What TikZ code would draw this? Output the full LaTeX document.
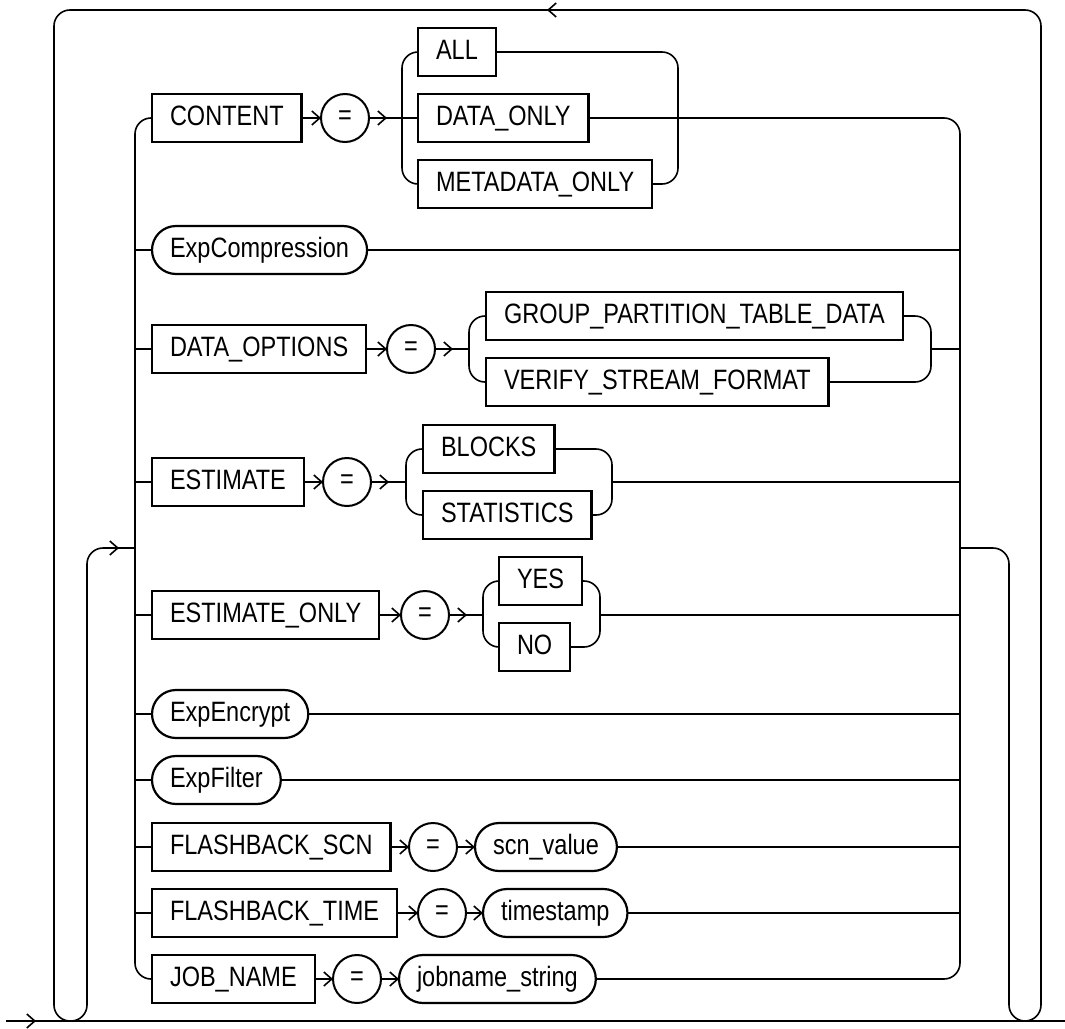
\documentclass[tikz,border=0pt]{standalone}
\usepackage{fontspec}
\newfontfamily\railfont{Liberation Sans}[FakeStretch=0.84]
\usetikzlibrary{arrows.meta,calc,decorations.markings}
\begin{document}
\begin{tikzpicture}[x=1pt,y=-1pt,
  rail/.style={line width=1.6pt},
  kw/.style={draw,line width=2.4pt,anchor=west,minimum height=48pt,inner xsep=18pt,inner ysep=0pt,
    text height=20pt,text depth=6pt,outer sep=0pt,font=\railfont\fontsize{28}{30}\selectfont},
  nt/.style={kw,rounded corners=24pt,line width=2.2pt},
  eqsign/.style={draw,circle,line width=2pt,minimum size=48pt,inner sep=0pt,outer sep=0pt,
    font=\railfont\fontsize{28}{30}\selectfont},
  chev/.tip={Straight Barb[length=8pt,width=14pt]},
  flow/.style={postaction={decorate},decoration={markings,mark=at position #1 with {\arrow{chev}}}},
  flow/.default=18pt]
\useasboundingbox (0,0) rectangle (1065,1028);
\coordinate (lb) at (135,548);
\coordinate (rb) at (960,548);
\coordinate (upin) at (87,548);
\coordinate (downout) at (1009,548);
\coordinate (loopL) at (54,10);
\coordinate (loopR) at (1041,10);
\coordinate (mainS) at (6,1021);
\coordinate (mainE) at (1065,1021);
\coordinate (toparr) at (547,10);
\coordinate (inarr) at (119,548);
\node[kw] (content) at (152,118) {CONTENT};
\node[eqsign] (eq1) at (345,118) {=};
\coordinate (c1l) at (402,118);
\coordinate (c1r) at (678,118);
\node[kw] (all) at (418,52) {ALL};
\node[kw] (dataonly) at (418,118) {DATA\_ONLY};
\node[kw] (metaonly) at (418,184) {METADATA\_ONLY};
\node[nt] (expcomp) at (152,250) {ExpCompression};
\node[kw] (dataopt) at (152,349) {DATA\_OPTIONS};
\node[eqsign] (eq3) at (411,349) {=};
\coordinate (c3l) at (469,349);
\coordinate (c3r) at (931,349);
\node[kw] (group) at (486,316) {GROUP\_PARTITION\_TABLE\_DATA};
\node[kw] (verify) at (486,382) {VERIFY\_STREAM\_FORMAT};
\node[kw] (estimate) at (152,482) {ESTIMATE};
\node[eqsign] (eq4) at (347,482) {=};
\coordinate (c4l) at (406,482);
\coordinate (c4r) at (612,482);
\node[kw] (blocks) at (423,449) {BLOCKS};
\node[kw] (stats) at (423,515) {STATISTICS};
\node[kw] (estonly) at (152,615) {ESTIMATE\_ONLY};
\node[eqsign] (eq5) at (425,615) {=};
\coordinate (c5l) at (483,615);
\coordinate (c5r) at (600,615);
\node[kw] (yes) at (499,581) {YES};
\node[kw] (no) at (499,647) {NO};
\node[nt] (expenc) at (152,714) {ExpEncrypt};
\node[nt] (expfil) at (152,780) {ExpFilter};
\node[kw] (fscn) at (152,847) {FLASHBACK\_SCN};
\node[eqsign] (eq8) at (433,847) {=};
\node[nt] (scn) at (475,847) {scn\_value};
\node[kw] (ftime) at (152,913) {FLASHBACK\_TIME};
\node[eqsign] (eq9) at (442,913) {=};
\node[nt] (tstamp) at (483,913) {timestamp};
\node[kw] (jobname) at (152,979) {JOB\_NAME};
\node[eqsign] (eq10) at (357,979) {=};
\node[nt] (jstr) at (399,979) {jobname\_string};
\path[draw,rail,flow=30pt] (mainS) -- (mainE);
\path[draw,rail,rounded corners=16pt] (rb) -- (downout) -- (downout |- mainS) -- (loopR |- mainS)
  -- (loopR) -- (loopL) -- (loopL |- mainS) -- (upin |- mainS) -- (upin) -- (lb);
\path[draw,rail,-chev] ($(toparr)+(8,0)$) -- (toparr);
\path[draw,rail,-chev] ($(inarr)+(-8,0)$) -- (inarr);
\path[draw,rail,rounded corners=16pt] (content.west) -| (lb) |- (jobname.west);
\path[draw,rail,rounded corners=16pt] (dataonly.east) -| (rb) |- (jstr.east);
\path[draw,rail] (expcomp) -- (expcomp -| lb);
\path[draw,rail] (dataopt) -- (dataopt -| lb);
\path[draw,rail] (estimate) -- (estimate -| lb);
\path[draw,rail] (estonly) -- (estonly -| lb);
\path[draw,rail] (expenc) -- (expenc -| lb);
\path[draw,rail] (expfil) -- (expfil -| lb);
\path[draw,rail] (fscn) -- (fscn -| lb);
\path[draw,rail] (ftime) -- (ftime -| lb);
\path[draw,rail] (expcomp) -- (expcomp -| rb);
\path[draw,rail] (c3r) -- (c3r -| rb);
\path[draw,rail] (c4r) -- (c4r -| rb);
\path[draw,rail] (c5r) -- (c5r -| rb);
\path[draw,rail] (expenc) -- (expenc -| rb);
\path[draw,rail] (expfil) -- (expfil -| rb);
\path[draw,rail] (scn) -- (scn -| rb);
\path[draw,rail] (tstamp) -- (tstamp -| rb);
\path[draw,rail,-chev] (content) -- (eq1);
\path[draw,rail,flow] (eq1) -- (dataonly);
\path[draw,rail,rounded corners=16pt] (all.west) -| (c1l) |- (metaonly.west);
\path[draw,rail,rounded corners=16pt] (all.east) -| (c1r) |- (metaonly.east);
\path[draw,rail,-chev] (dataopt) -- (eq3);
\path[draw,rail,flow] (eq3) -- (c3l);
\path[draw,rail,rounded corners=16pt] (group.west) -| (c3l) |- (verify.west);
\path[draw,rail,rounded corners=16pt] (group.east) -| (c3r) |- (verify.east);
\path[draw,rail,-chev] (estimate) -- (eq4);
\path[draw,rail,flow] (eq4) -- (c4l);
\path[draw,rail,rounded corners=16pt] (blocks.west) -| (c4l) |- (stats.west);
\path[draw,rail,rounded corners=16pt] (blocks.east) -| (c4r) |- (stats.east);
\path[draw,rail,-chev] (estonly) -- (eq5);
\path[draw,rail,flow] (eq5) -- (c5l);
\path[draw,rail,rounded corners=16pt] (yes.west) -| (c5l) |- (no.west);
\path[draw,rail,rounded corners=16pt] (yes.east) -| (c5r) |- (no.east);
\path[draw,rail,-chev] (fscn) -- (eq8);
\path[draw,rail,-chev] (eq8) -- (scn);
\path[draw,rail,-chev] (ftime) -- (eq9);
\path[draw,rail,-chev] (eq9) -- (tstamp);
\path[draw,rail,-chev] (jobname) -- (eq10);
\path[draw,rail,-chev] (eq10) -- (jstr);
\end{tikzpicture}
\end{document}
